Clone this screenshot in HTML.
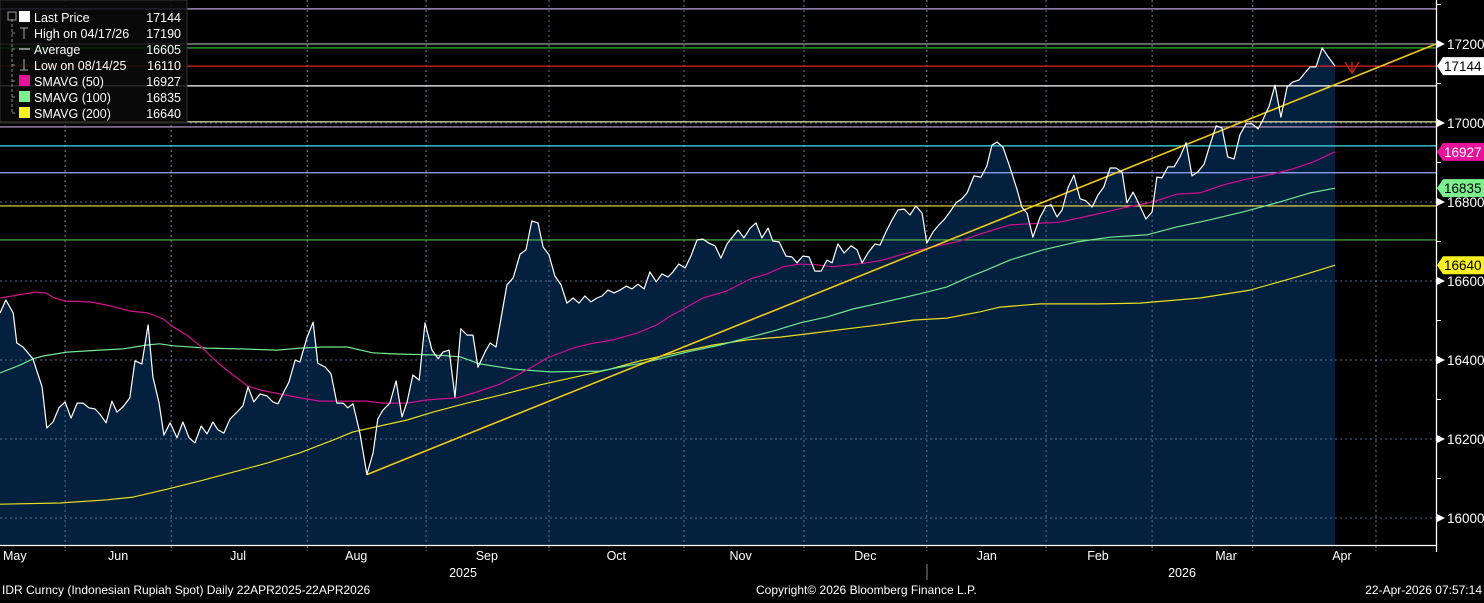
<!DOCTYPE html>
<html><head><meta charset="utf-8"><style>
html,body{margin:0;padding:0;background:#000;}
body{width:1484px;height:598px;overflow:hidden;font-family:"Liberation Sans",sans-serif;}
svg text{font-family:"Liberation Sans",sans-serif;}
</style></head><body>
<svg id="chart" width="1484" height="598" viewBox="0 0 1484 598" xmlns="http://www.w3.org/2000/svg">
<rect width="1484" height="598" fill="#000"/>
<g id="grid"></g><g id="fillg"></g><g id="levels"></g><g id="series"></g><g id="axes"></g><g id="legend"></g>
</svg>
<script>
const NS='http://www.w3.org/2000/svg';
// ---- data (day = calendar days since 22-Apr-2025) ----
const priceDays=[0,1.6,3.6,4.6,6.3,9,11.5,12.8,14.5,16.1,17.8,19.4,21.1,22.7,24.3,26,27.3,29,30.6,32,33.6,35.5,36.9,38.8,40.5,41.8,43.5,44.8,46.5,48.4,50,51.7,53.3,55,56.6,58.2,59.6,61.2,62.9,64.8,66.4,67.8,69.4,71.1,73,74.6,76,77.6,79,80.7,82,83.9,85.6,86.9,88.9,90.5,92.1,93.8,95.1,96.5,98.4,100.3,102,103.3,104.7,106.6,108.3,109.9,111.3,112.9,114.6,116.2,118.1,119.8,121.1,122.8,124.4,126,127.7,129.3,130.7,132.6,134,135.6,138.6,140.3,142.2,143.8,145.4,147.1,148.5,150.1,151.7,153.4,155,156.7,158.3,159.9,161.6,163.2,164.6,166.2,167.9,169.5,171.2,172.8,174.4,176.1,177.7,179.4,181,182.6,184,185.6,187.3,188.9,190.6,192.2,193.8,195.5,197.1,198.8,200.1,201.8,203.4,205.1,206.7,208.3,210,211.3,213,214.9,216.5,217.9,219.5,221.2,222.8,224.5,226.1,227.5,229.1,230.8,232.7,234.3,235.7,237.3,239.2,240.6,242.2,243.9,245.5,247.2,248.8,250.4,252.1,253.4,255.1,256.7,258.1,259.7,261.4,263,264.4,266.3,268.2,269.8,271.2,272.6,274.2,276.1,278.1,279.4,280.8,282.4,284.3,286,287.4,289,290.4,292,293.6,295.3,296.9,298.6,300.2,301.8,303.5,305.1,306.8,308.1,309.8,311.4,313.3,315,316.3,317.7,319.3,321,322.6,324.3,325.9,327.5,329.2,330.8,332.5,334.1,335.7,337.4,339,340.7,342.3,344,345.3,347,348.6,350.2,351.9,353.5,355.2,356.8,358.2,359.8,361.5,362.8,365];
const priceValues=[16519,16552,16519,16443,16433,16403,16332,16228,16243,16279,16294,16253,16291,16291,16279,16276,16263,16241,16296,16268,16281,16304,16398,16390,16489,16357,16291,16210,16241,16203,16243,16203,16190,16233,16213,16243,16223,16215,16251,16268,16284,16332,16294,16314,16309,16294,16289,16319,16344,16400,16395,16456,16496,16392,16382,16365,16291,16291,16279,16289,16215,16110,16165,16251,16273,16291,16347,16256,16294,16362,16349,16494,16425,16403,16420,16425,16306,16479,16463,16463,16382,16420,16443,16433,16590,16608,16668,16679,16752,16747,16686,16666,16613,16590,16544,16557,16544,16562,16547,16557,16562,16577,16570,16577,16587,16580,16592,16580,16623,16598,16618,16610,16623,16643,16633,16663,16704,16706,16696,16689,16658,16694,16709,16729,16709,16734,16747,16709,16734,16701,16699,16663,16661,16646,16663,16661,16625,16625,16653,16646,16694,16671,16689,16679,16646,16671,16694,16691,16724,16755,16780,16782,16767,16790,16772,16696,16724,16742,16755,16775,16798,16808,16823,16866,16863,16891,16944,16952,16939,16889,16830,16787,16772,16711,16760,16790,16793,16762,16780,16836,16868,16808,16803,16787,16818,16838,16886,16886,16876,16798,16825,16795,16757,16775,16863,16861,16889,16889,16914,16950,16866,16876,16896,16944,16993,16987,16914,16909,16970,16998,16998,16985,17008,17043,17096,17015,17091,17104,17109,17127,17142,17142,17190,17172,17144];
const sma50Days=[0,9.6,12.3,15,17.8,24.6,29.3,35.5,40.5,44.6,47.3,51.1,54.7,59.3,63.7,67.8,71.1,76.6,82,87.5,100.3,104.7,111.3,116.7,124.9,130.4,136.7,144.1,149.6,156.7,161.3,167.6,174.2,179.6,183.2,187.8,192.2,198.8,205.1,209.7,214.1,218.7,223.4,227.8,232.4,237,241.4,246.1,251.5,258.9,262.5,268,276.1,289.8,298.8,308.1,315.2,321.8,328.1,334.4,340.9,348.1,353.5,359,365];
const sma50Values=[16557,16572,16570,16557,16549,16547,16539,16524,16519,16504,16484,16463,16436,16395,16362,16334,16324,16314,16304,16296,16296,16291,16291,16299,16304,16319,16339,16375,16405,16430,16441,16451,16468,16489,16511,16534,16557,16575,16605,16618,16636,16643,16641,16636,16641,16646,16653,16666,16679,16694,16701,16719,16742,16749,16767,16787,16800,16820,16823,16843,16858,16871,16884,16901,16927];
const sma100Days=[0,5.5,9,11.8,18.3,27.3,33.6,40.2,43.7,47.3,56.6,65.6,75.7,82,88.3,94.9,102,109.4,118.4,125.8,131.2,140.3,150.4,164,176.9,187.8,196.9,204.2,211.3,218.7,226.1,233.2,240.6,248,253.4,258.9,264.4,269.8,276.1,285.2,294.5,303.5,313.6,321.8,330.8,339.8,349.1,358.2,365];
const sma100Values=[16367,16387,16403,16410,16420,16425,16428,16438,16441,16436,16430,16428,16425,16430,16433,16433,16418,16415,16413,16408,16390,16377,16370,16372,16395,16420,16438,16456,16473,16494,16509,16529,16544,16560,16572,16585,16608,16628,16653,16679,16699,16711,16717,16737,16755,16775,16798,16823,16835];
const sma200Days=[0,16.4,29.3,36.4,45.7,54.7,63.7,73,82,91,96.5,103.9,111.3,118.4,127.7,136.7,147.6,166,175,185.9,195,204.2,213.3,222.3,231.6,240.6,249.6,258.9,268,273.4,284.3,300.7,311.7,328.1,341.8,355.5,365];
const sma200Values=[16035,16038,16046,16053,16073,16094,16116,16139,16165,16197,16218,16233,16248,16268,16291,16311,16337,16375,16398,16420,16438,16451,16458,16468,16479,16489,16501,16506,16522,16534,16542,16542,16544,16557,16577,16613,16640];
const trendDays=[100.3,392.6];
const trendValues=[16110,17200];
const levelValues=[17289,17200,17190,17144,17094,17003,16990,16942,16874,16790,16704];
const levelColors=['#b8a6e0','#a0a0a0','#35c435','#e02020','#ffffff','#f4f0b0','#c9a0d8','#40e0e0','#9aa8ff','#f0e040','#4cc04c'];
const yTicks=[16000,16200,16400,16600,16800,17000,17200];
const yMinorTicks=[16100,16300,16500,16700,16900,17100,17300];
const monthLabels=['May','Jun','Jul','Aug','Sep','Oct','Nov','Dec','Jan','Feb','Mar','Apr'];
const monthLabelDays=[3.8,32.3,65.1,97.4,133.1,168.5,202.5,236.6,269.8,300.2,335.2,366.9];
const monthTickDays=[17.8,46.8,84,116.5,150.1,187,219.8,253.4,286,315,342.5,376.2];
const tagValues=[17144,16927,16835,16640];
const tagFill=['#ffffff','#e8129a','#7cf08c','#f8f020'];
// ---- scales ----
const X0=0,PXPD=1335/365;
function xs(d){return X0+d*PXPD;}
function ys(v){return 518-(v-16000)*0.395;}
const svg=document.getElementById('chart');
function el(tag,attrs,parent){const e=document.createElementNS(NS,tag);for(const k in attrs)e.setAttribute(k,attrs[k]);parent.appendChild(e);return e;}
const G=id=>document.getElementById(id);
// grid
yTicks.forEach(v=>{const l=el('line',{x1:0,x2:1436,y1:ys(v),y2:ys(v),stroke:'#7a8aa0','stroke-width':1,'stroke-dasharray':'2,3'},G('grid'));

});
monthTickDays.forEach(d=>{const l=el('line',{x1:xs(d),x2:xs(d),y1:0,y2:545,stroke:'#7a8aa0','stroke-width':1,'stroke-dasharray':'2,3'},G('grid'));

});
// area fill
let pts=priceDays.map((d,i)=>xs(d).toFixed(1)+','+ys(priceValues[i]).toFixed(1));
const area=el('polygon',{points:xs(0)+',545 '+pts.join(' ')+' '+xs(priceDays[priceDays.length-1])+',545',fill:'#04203f'},G('fillg'));


// redraw grid over area faintly
monthTickDays.forEach(d=>{const l=el('line',{x1:xs(d),x2:xs(d),y1:0,y2:545,stroke:'#5a6e88','stroke-width':1,'stroke-dasharray':'2,3'},G('fillg'));

});
yTicks.forEach(v=>{const l=el('line',{x1:0,x2:1436,y1:ys(v),y2:ys(v),stroke:'#5a6e88','stroke-width':1,'stroke-dasharray':'2,3'},G('fillg'));

});
// level lines
levelValues.forEach((v,i)=>{const l=el('line',{x1:0,x2:1436,y1:ys(v),y2:ys(v),stroke:levelColors[i],'stroke-width':1.2},G('levels'));

});
// series
function line(days,vals,color,w,name){const p=el('polyline',{points:days.map((d,i)=>xs(d).toFixed(1)+','+ys(vals[i]).toFixed(1)).join(' '),fill:'none',stroke:color,'stroke-width':w,'stroke-linejoin':'round'},G('series'));

}
line(sma200Days,sma200Values,'#e8e020',1.2,'sma-200-line');
line(sma100Days,sma100Values,'#70e890',1.2,'sma-100-line');
line(sma50Days,sma50Values,'#d0108c',1.2,'sma-50-line');
line(trendDays,trendValues,'#f0c818',1.6,'trend-line');
line(priceDays,priceValues,'#ffffff',1.2,'last-price-line');
// red marker
const mk=el('path',{d:'M1345,62 L1352,73 L1359,62 M1352,62 L1352,73',stroke:'#d02020',fill:'none','stroke-width':1.3},G('series'));


// axes
const ax=G('axes');
const yl=el('line',{x1:1436.5,x2:1436.5,y1:0,y2:552,stroke:'#fff','stroke-width':1.3},ax);


const xl=el('line',{x1:0,x2:1437,y1:545.5,y2:545.5,stroke:'#fff','stroke-width':1.3},ax);


yMinorTicks.forEach(v=>{const t=el('line',{x1:1436,x2:1441,y1:ys(v),y2:ys(v),stroke:'#fff'},ax);

});
yTicks.forEach(v=>{const y=ys(v);
const a=el('polygon',{points:`1437,${y-4} 1445,${y} 1437,${y+4}`,fill:'#fff'},ax);


const t=el('text',{x:1447,y:y+5,fill:'#fff','font-size':13.5},ax);t.textContent=v;

});
tagValues.forEach((v,i)=>{const y=ys(v);
const p=el('polygon',{points:`1437,${y} 1443,${y-9} 1484,${y-9} 1484,${y+9} 1443,${y+9}`,fill:tagFill[i]},ax);


const t=el('text',{x:1444,y:y+5,fill:i==1?'#fff':'#000','font-size':13.5},ax);t.textContent=v;

});
monthTickDays.forEach(d=>{const t=el('line',{x1:xs(d),x2:xs(d),y1:546,y2:551,stroke:'#888','stroke-dasharray':'2,2'},ax);

});
monthLabels.forEach((m,i)=>{const t=el('text',{x:xs(monthLabelDays[i]),y:560,fill:'#fff','font-size':12.5,'text-anchor':i==0?'start':'middle'},ax);t.textContent=m;
if(i==0)t.setAttribute('x',3);

});
const ysep=el('line',{x1:927,x2:927,y1:564,y2:580,stroke:'#888'},ax);


[['2025',463],['2026',1182]].forEach(([s,x])=>{const t=el('text',{x:x,y:577,fill:'#fff','font-size':12.5,'text-anchor':'middle'},ax);t.textContent=s;

});
const f1=el('text',{x:2,y:594,fill:'#fff','font-size':12},ax);f1.textContent='IDR Curncy (Indonesian Rupiah Spot) Daily 22APR2025-22APR2026';


const f2=el('text',{x:756,y:594,fill:'#fff','font-size':12},ax);f2.textContent='Copyright\u00A9 2026 Bloomberg Finance L.P.';


const f3=el('text',{x:1482,y:594,fill:'#fff','font-size':12,'text-anchor':'end'},ax);f3.textContent='22-Apr-2026 07:57:14';


// legend
const lg=G('legend');
const box=el('rect',{x:0,y:0,width:187,height:123,fill:'rgba(10,10,10,0.85)',stroke:'#333'},lg);


const legNames=['Last Price','High on 04/17/26','Average','Low on 08/14/25','SMAVG (50)','SMAVG (100)','SMAVG (200)'];
const legVals=['17144','17190','16605','16110','16927','16835','16640'];
const legSw=['#ffffff',null,null,null,'#e8129a','#7cf08c','#f8f020'];
const tree=el('path',{d:'M12,19 L12,113 M12,33 L17,33 M12,49 L17,49 M12,65 L17,65 M12,81 L17,81 M12,97 L17,97 M12,113 L17,113',stroke:'#888',fill:'none','stroke-dasharray':'3,2'},lg);


const tb=el('rect',{x:8,y:12,width:8,height:8,fill:'none',stroke:'#999'},lg);


legNames.forEach((n,i)=>{const y=17+i*16;
if(legSw[i]){const s=el('rect',{x:19,y:y-6,width:11,height:11,fill:legSw[i]},lg);

}
const t=el('text',{x:34,y:y+5,fill:'#fff','font-size':12.5},lg);t.textContent=n;


const v=el('text',{x:181,y:y+5,fill:'#fff','font-size':12.5,'text-anchor':'end'},lg);v.textContent=legVals[i];

});
const hi=el('path',{d:'M20,28 L28,28 M24,28 L24,39',stroke:'#aaa',fill:'none'},lg);


const av=el('path',{d:'M19,49 L30,49 M23,49 L26,49',stroke:'#aaa','stroke-width':1.5,fill:'none'},lg);


const lo=el('path',{d:'M24,59 L24,70 M20,70 L28,70',stroke:'#aaa',fill:'none'},lg);


</script>
</body></html>
